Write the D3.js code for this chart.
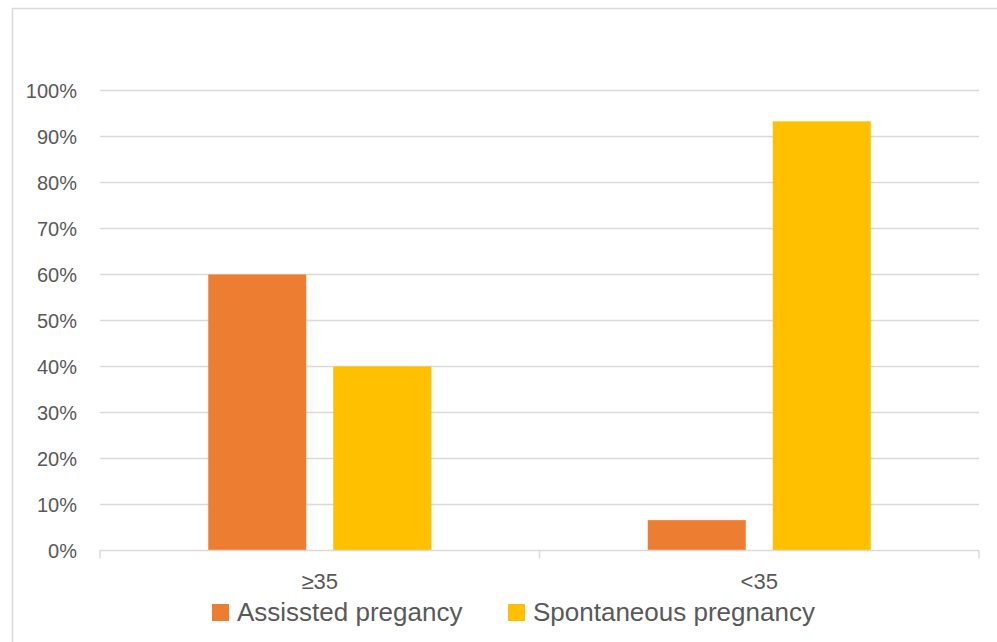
<!DOCTYPE html>
<html>
<head>
<meta charset="utf-8">
<script src="https://cdnjs.cloudflare.com/ajax/libs/d3/7.8.5/d3.min.js"></script>
<style>
  html, body { margin: 0; padding: 0; background: #fff; }
  svg { display: block; font-family: "Liberation Sans", Arial, sans-serif; }
</style>
</head>
<body>
<svg id="chart" width="997" height="642"></svg>
<script>
// Age groups and share of pregnancies by type
const categories = ["≥35", "<35"];
const seriesNames = ["Assissted pregancy", "Spontaneous pregnancy"];
const assisted = [0.60, 0.066];
const spontaneous = [0.40, 0.933];
const yTicks = [0, 0.1, 0.2, 0.3, 0.4, 0.5, 0.6, 0.7, 0.8, 0.9, 1.0];
const colors = ["#ED7D31", "#FFC000"];

const svg = d3.select("#chart");
const W = 997, H = 642;

// chart frame (open on right and bottom)
svg.append("path")
  .attr("d", `M12.5,${H} V8.5 H${W}`)
  .attr("fill", "none")
  .attr("stroke", "#d9d9d9")
  .attr("stroke-width", 1.5);

const plot = { left: 100, right: 979, top: 90.5, bottom: 550.5 };

const x = d3.scaleBand()
  .domain(categories)
  .range([plot.left, plot.right]);

const inner = d3.scaleBand()
  .domain(seriesNames)
  .range([0, x.bandwidth()])
  .paddingInner(0.216)
  .paddingOuter(0.866);

const y = d3.scaleLinear()
  .domain([0, 1])
  .range([plot.bottom, plot.top]);

// horizontal gridlines
svg.append("g")
  .selectAll("line")
  .data(yTicks.slice(1))
  .join("line")
  .attr("x1", plot.left).attr("x2", plot.right)
  .attr("y1", d => y(d)).attr("y2", d => y(d))
  .attr("stroke", "#d9d9d9")
  .attr("stroke-width", 1.4);

// y tick labels
svg.append("g")
  .selectAll("text")
  .data(yTicks)
  .join("text")
  .attr("x", 77)
  .attr("y", d => y(d) + 7)
  .attr("text-anchor", "end")
  .attr("font-size", 20)
  .attr("fill", "#595959")
  .text(d => d3.format(".0%")(d));

// bars
const rows = categories.map((c, i) => ({ cat: c, vals: [assisted[i], spontaneous[i]] }));
const groups = svg.append("g")
  .selectAll("g")
  .data(rows)
  .join("g")
  .attr("transform", d => `translate(${x(d.cat)},0)`);

groups.selectAll("rect")
  .data(d => d.vals.map((v, j) => ({ name: seriesNames[j], v, j })))
  .join("rect")
  .attr("x", d => inner(d.name))
  .attr("width", inner.bandwidth())
  .attr("y", d => y(d.v))
  .attr("height", d => y(0) - y(d.v))
  .attr("fill", d => colors[d.j]);

// category axis line and boundary ticks
svg.append("line")
  .attr("x1", plot.left).attr("x2", plot.right)
  .attr("y1", plot.bottom).attr("y2", plot.bottom)
  .attr("stroke", "#d9d9d9")
  .attr("stroke-width", 1.4);

const bounds = categories.map(c => x(c)).concat([plot.right]);
svg.append("g")
  .selectAll("line")
  .data(bounds)
  .join("line")
  .attr("x1", d => d).attr("x2", d => d)
  .attr("y1", plot.bottom).attr("y2", plot.bottom + 8)
  .attr("stroke", "#d9d9d9")
  .attr("stroke-width", 1.4);

// category labels
svg.append("g")
  .selectAll("text")
  .data(categories)
  .join("text")
  .attr("x", d => x(d) + x.bandwidth() / 2)
  .attr("y", 589)
  .attr("text-anchor", "middle")
  .attr("font-size", 22)
  .attr("fill", "#595959")
  .text(d => d);

// legend
const legendX = [212, 508];
const legend = svg.append("g")
  .selectAll("g")
  .data(seriesNames)
  .join("g")
  .attr("transform", (d, i) => `translate(${legendX[i]},604)`);

legend.append("rect")
  .attr("width", 17).attr("height", 17)
  .attr("fill", (d, i) => colors[i]);

legend.append("text")
  .attr("x", 25)
  .attr("y", 16.5)
  .attr("font-size", 26)
  .attr("fill", "#595959")
  .text(d => d);
</script>
</body>
</html>
